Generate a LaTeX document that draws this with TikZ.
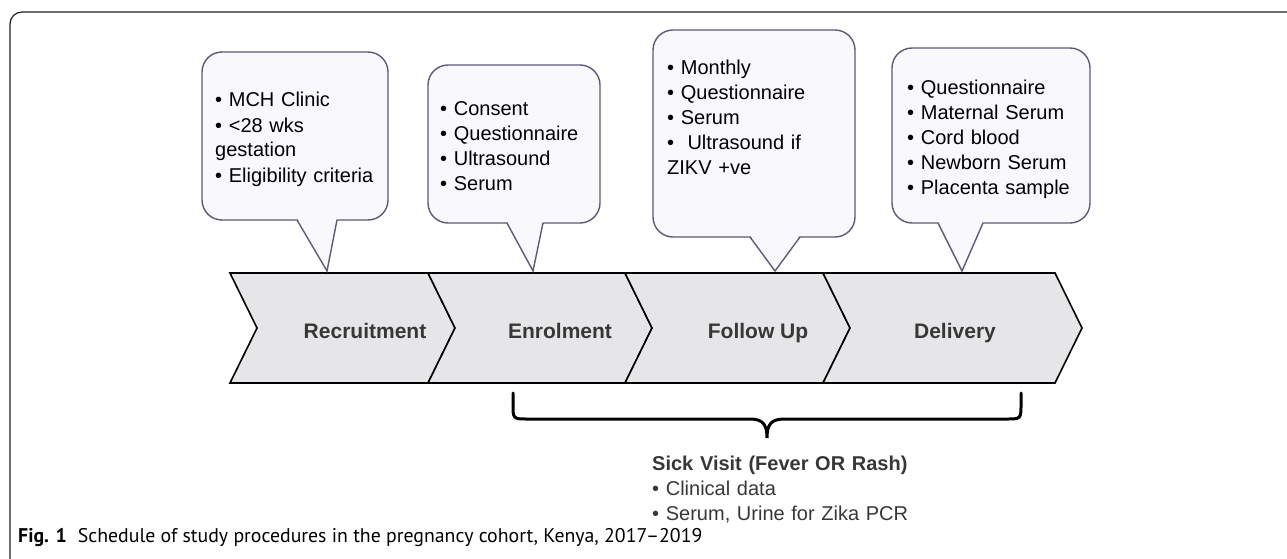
\documentclass[tikz,border=0pt]{standalone}
\usepackage{fontspec}
\setmainfont{Liberation Sans}
\newfontfamily\capfont{PT Sans}
\definecolor{chevfill}{RGB}{230,230,232}
\definecolor{callline}{RGB}{98,88,118}
\definecolor{callfill}{RGB}{249,248,252}
\definecolor{labtext}{RGB}{55,55,55}
\definecolor{framegray}{RGB}{30,30,30}
\begin{document}
\begin{tikzpicture}[x=1pt,y=-1pt]
\tikzstyle{every node}+=[inner sep=0pt]
\tikzstyle{chev}=[draw=black, line width=1.6pt, fill=chevfill, line join=miter]
\tikzstyle{callbox}=[draw=callline, line width=1.4pt, fill=callfill, rounded corners=20pt]
\tikzstyle{callpt}=[draw=callline, line width=1.4pt]
\tikzstyle{stage}=[anchor=base, font=\fontsize{21}{25}\selectfont\bfseries, text=labtext]
\tikzstyle{items}=[anchor=base west, text width=195pt, align=left, font=\fontsize{20}{25}\selectfont]
\useasboundingbox (0,0) rectangle (1287,559);
% frame
\draw [framegray, line width=1.2pt, rounded corners=12pt] (10,570) -- (10,12) -- (1300,12);
% stages
\draw [chev] (230,273) -- (428,273) -- (455,328) -- (428,383) -- (230,383) -- (257,328) -- cycle;
\draw [chev] (428,273) -- (625,273) -- (652,328) -- (625,383) -- (428,383) -- (455,328) -- cycle;
\draw [chev] (625,273) -- (823,273) -- (850,328) -- (823,383) -- (625,383) -- (652,328) -- cycle;
\draw [chev] (823,273) -- (1055,273) -- (1082,328) -- (1055,383) -- (823,383) -- (850,328) -- cycle;
\draw (365,338) node [stage] (recruit) {Recruitment};
\draw (560,338) node [stage] (enrol) {Enrolment};
\draw (758,338) node [stage] (follow) {Follow Up};
\draw (955,338) node [stage] (deliver) {Delivery};
% callouts
\filldraw [callbox] (202,52) rectangle (388,220);
\fill [callfill] (297,218) -- (327,271) -- (337,218) -- cycle;
\draw [callpt] (297,220) -- (327,271) -- (337,220);
\draw (215,107) node [items] (recruitlist) {\textbullet{} MCH Clinic\\ \textbullet{} <28 wks\\ gestation\\ \textbullet{} Eligibility criteria};
\filldraw [callbox] (428,65) rectangle (600,223);
\fill [callfill] (507,221) -- (533,271) -- (543,221) -- cycle;
\draw [callpt] (507,223) -- (533,271) -- (543,223);
\draw (440,116) node [items] (enrollist) {\textbullet{} Consent\\ \textbullet{} Questionnaire\\ \textbullet{} Ultrasound\\ \textbullet{} Serum};
\filldraw [callbox] (653,30) rectangle (855,237);
\fill [callfill] (750,235) -- (775,271) -- (800,235) -- cycle;
\draw [callpt] (750,237) -- (775,271) -- (800,237);
\draw (667,75) node [items] (followlist) {\textbullet{} Monthly\\ \textbullet{} Questionnaire\\ \textbullet{} Serum\\ \textbullet{}\ \ Ultrasound if\\ ZIKV +ve};
\filldraw [callbox] (892,48) rectangle (1090,223);
\fill [callfill] (938,221) -- (962,271) -- (983,221) -- cycle;
\draw [callpt] (938,223) -- (962,271) -- (983,223);
\draw (907,95) node [items] (deliverlist) {\textbullet{} Questionnaire\\ \textbullet{} Maternal Serum\\ \textbullet{} Cord blood\\ \textbullet{} Newborn Serum\\ \textbullet{} Placenta sample};
% sick visit brace
\draw [line width=3pt, line cap=round] (513,393) -- (513,404) .. controls (513,419) .. (528,419) -- (750,419) .. controls (764,419) and (767,426) .. (767,438) .. controls (767,426) and (770,419) .. (784,419) -- (1006,419) .. controls (1021,419) .. (1021,404) -- (1021,393);
\draw (652,470) node [anchor=base west, text width=300pt, align=left, font=\fontsize{20}{25}\selectfont, text=labtext] (sick) {\textbf{Sick Visit (Fever OR Rash)}\\ \textbullet{} Clinical data\\ \textbullet{} Serum, Urine for Zika PCR};
% caption
\draw (18,542) node [anchor=base west, font=\capfont\fontsize{19.8}{24}\selectfont] (caption) {\textbf{Fig. 1}\hspace{0.55em}Schedule of study procedures in the pregnancy cohort, Kenya, 2017–2019};
\end{tikzpicture}
\end{document}
